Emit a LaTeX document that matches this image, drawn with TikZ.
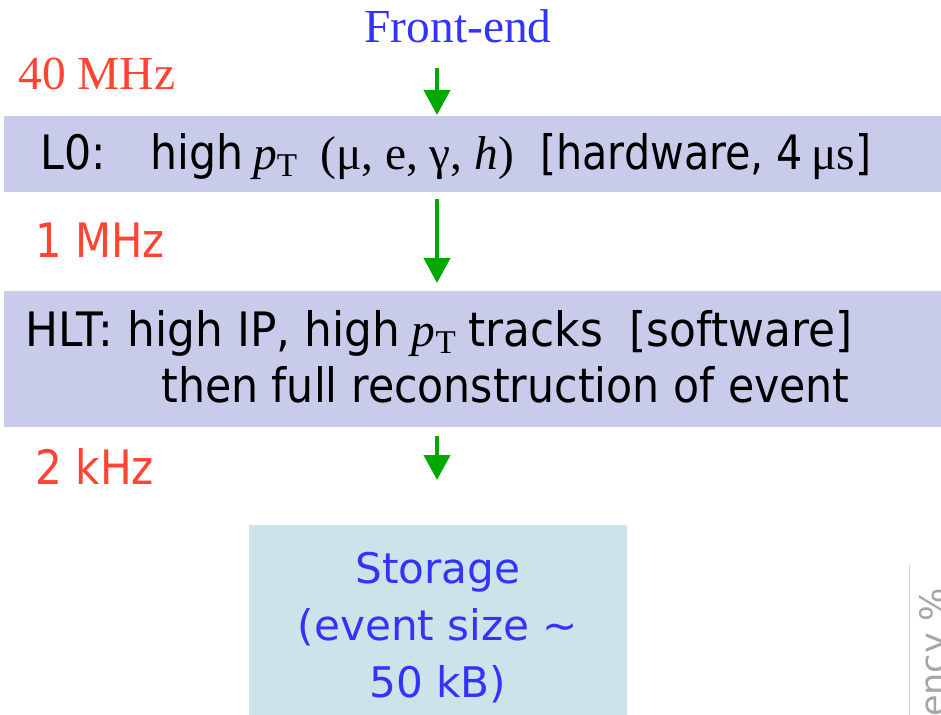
\documentclass[tikz,border=0pt]{standalone}
\usepackage{fontspec}
\usepackage{graphicx}
\setmainfont{Liberation Serif}
\setsansfont{DejaVu Sans}
\usetikzlibrary{arrows.meta}
\definecolor{bandblue}{RGB}{200,204,234}
\definecolor{storeblue}{RGB}{205,227,234}
\definecolor{ratered}{RGB}{255,68,51}
\definecolor{labelblue}{RGB}{51,51,255}
\definecolor{flowgreen}{RGB}{0,168,0}
\tikzstyle{band} = [rectangle, fill=bandblue, inner sep=0pt, anchor=north west]
\tikzstyle{rate} = [text=ratered, inner sep=0pt, anchor=base west]
\tikzstyle{flow} = [draw=flowgreen, line width=0.08cm, -{Triangle[width=0.52cm,length=0.5cm]}]
\newcommand{\pT}{{\rmfamily\itshape p}\textsubscript{\rmfamily T}}
\newcommand{\bigsf}{\sffamily\fontsize{27}{32}\selectfont}
\newcommand{\bigrm}{\rmfamily\fontsize{27}{32}\selectfont}
\newcommand{\narrow}[2]{\scalebox{#1}[1]{#2}}

\begin{document}
\begin{tikzpicture}[x=0.02cm, y=-0.02cm,
txt/.style={inner sep=0pt, anchor=base west, font=\bigsf}
]
\useasboundingbox (0,0) rectangle (941,715);
% trigger levels and storage
\node[band, minimum width=18.74cm, minimum height=1.52cm] (L0) at (4,116) {};
\node[band, minimum width=18.74cm, minimum height=2.72cm] (HLT) at (4,291) {};
\node[rectangle, fill=storeblue, inner sep=0pt, minimum width=7.56cm, minimum height=4.4cm, anchor=north] (store) at (438,525) {};

\node[font=\bigrm, text=labelblue, inner sep=0pt, anchor=base] (fe) at (458,43) {Front-end};
\node[rate, font=\bigrm] (r40) at (18,90) {40 MHz};
\node[rate, font=\bigsf] (r1) at (35,258) {\narrow{0.88}{1 MHz}};
\node[rate, font=\bigsf] (r2) at (35,485) {\narrow{0.89}{2 kHz}};

\node[txt] (L0txt) at (40,170) {\narrow{0.9}{L0:\hspace{1.05em}high}\hspace{0.2em}\pT\hspace{0.47em}{\rmfamily (μ, e, γ, \textit{h})}\hspace{0.55em}\narrow{0.87}{[hardware, 4}\,{\rmfamily μs}\narrow{0.87}{]}};
\node[txt] (HLTa) at (25,347) {\narrow{0.925}{HLT: high IP, high}\hspace{0.25em}\pT\hspace{0.25em}\narrow{0.925}{tracks\hspace{0.6em}[software]}};
\node[txt, anchor=base east] (HLTb) at (850,403) {\narrow{0.9}{then full reconstruction of event}};
\node[font=\sffamily\fontsize{24}{32.4}\selectfont, text=labelblue, align=center, inner sep=0pt] (storetxt) at (438,628) {Storage\\(event size \textasciitilde\\50 kB)};

% rates between levels
\coordinate (ax) at (437,0);
\draw[flow, shorten <=0.48cm, shorten >=0.02cm] (fe.south -| ax) -- (L0.north -| ax);
\draw[flow, shorten <=0.12cm, shorten >=0.16cm] (L0.south -| ax) -- (HLT.north -| ax);
\draw[flow, shorten <=0.16cm, shorten >=0.9cm] (HLT.south -| ax) -- (store.north -| ax);

% cut-off plot on the right
\draw[gray!35, line width=0.5pt] (909,565) -- (909,720);
\node[rotate=90, anchor=north east, inner sep=0pt, text=gray!70, font=\sffamily\fontsize{20}{24}\selectfont] (eff) at (918,588) {iency \%};
\end{tikzpicture}
\end{document}
